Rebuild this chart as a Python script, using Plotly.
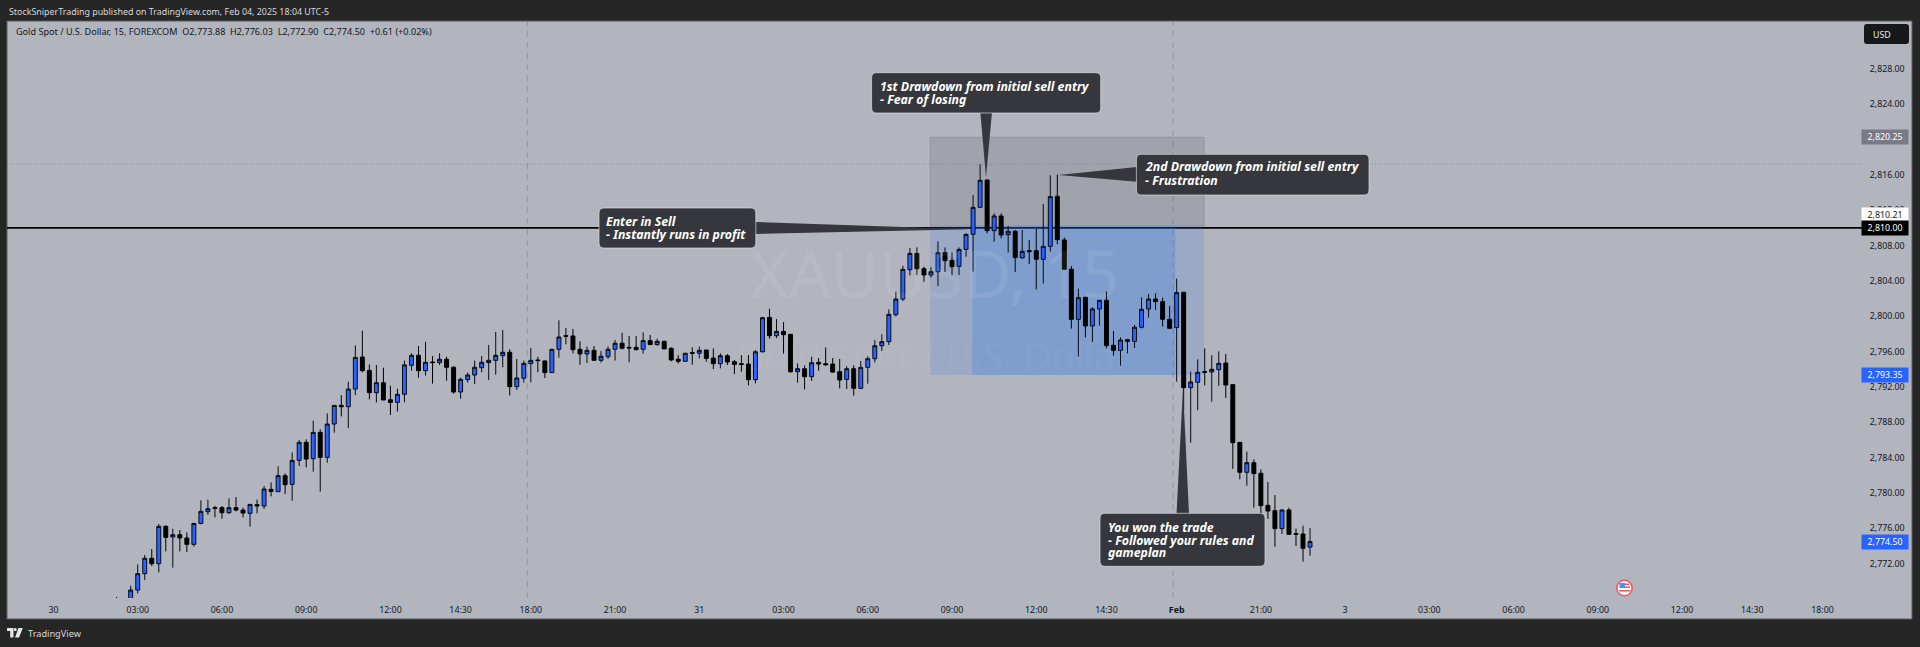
import plotly.graph_objects as go

# OHLC, left to right
opens = [2767.00, 2765.00, 2767.70, 2769.02, 2770.87, 2772.61, 2772.00, 2776.23, 2775.02, 2775.28,
         2774.91, 2774.19, 2776.56, 2777.88, 2778.34, 2778.34, 2777.77, 2778.34, 2778.07, 2777.70,
         2778.68, 2778.53, 2780.41, 2780.15, 2781.96, 2780.98, 2783.69, 2785.73, 2783.88, 2786.86,
         2784.03, 2787.80, 2789.91, 2789.76, 2791.76, 2795.38, 2793.87, 2791.35, 2792.48, 2790.55,
         2790.25,
         2791.17, 2794.45, 2795.58, 2793.84, 2794.82, 2794.75, 2795.13, 2794.22, 2791.43, 2792.83,
         2793.35, 2794.18, 2794.75, 2795.01, 2795.54, 2795.92, 2792.03, 2792.98, 2794.64, 2795.05,
         2794.94, 2793.62, 2796.26, 2797.80, 2797.77, 2796.26, 2795.73, 2796.14, 2795.01, 2795.43,
         2796.26, 2796.94, 2796.48, 2796.48, 2796.26, 2797.24, 2796.79, 2797.16, 2796.37, 2795.13,
         2794.90, 2795.88, 2795.81,
         2796.17, 2795.27, 2794.63, 2795.53, 2794.85, 2794.63, 2794.59, 2792.82, 2795.98, 2799.87,
         2797.79, 2798.28, 2797.95, 2793.72, 2794.06, 2793.16, 2794.78, 2794.63, 2794.59, 2793.72,
         2792.85, 2794.06, 2791.84, 2794.21, 2795.19, 2796.66, 2797.12, 2800.17, 2801.94, 2805.26,
         2807.11, 2805.37, 2804.66, 2805.03, 2807.22, 2806.32, 2805.64, 2807.56, 2809.27,
         2812.32, 2815.41, 2809.68, 2811.34, 2809.23, 2809.61, 2806.59, 2807.42, 2807.42, 2806.44,
         2807.91, 2813.57, 2808.63, 2805.31, 2799.65, 2802.14, 2798.90, 2800.82, 2801.80, 2796.71,
         2796.14, 2797.35, 2797.16, 2798.75, 2800.82, 2801.95, 2801.65, 2799.65, 2798.71, 2802.71,
         2791.92, 2792.52, 2793.73, 2793.69, 2793.95, 2794.71, 2792.26, 2785.73, 2782.34, 2783.43,
         2782.23, 2778.60, 2778.00, 2775.97, 2778.08, 2775.40, 2775.36, 2773.88]
highs = [2768.25, 2767.80, 2769.51, 2771.93, 2772.98, 2773.66, 2776.49, 2776.34, 2775.96, 2775.81,
         2775.55, 2776.56, 2779.17, 2779.24, 2778.53, 2778.53, 2779.39, 2779.54, 2778.34, 2778.71,
         2779.24, 2780.79, 2781.20, 2783.01, 2782.22, 2784.60, 2785.99, 2786.07, 2788.18, 2787.20,
         2789.01, 2789.91, 2791.08, 2792.59, 2796.70, 2798.36, 2794.55, 2794.48, 2794.17, 2792.14,
         2791.80,
         2794.98, 2795.81, 2796.63, 2797.09, 2795.50, 2795.81, 2795.43, 2794.37, 2793.05, 2793.62,
         2794.98, 2795.50, 2796.75, 2798.22, 2798.44, 2796.26, 2795.16, 2794.98, 2796.41, 2795.39,
         2794.98, 2796.26, 2799.54, 2798.67, 2798.56, 2797.16, 2796.56, 2796.63, 2796.07, 2796.56,
         2797.31, 2798.14, 2797.77, 2797.77, 2798.18, 2797.88, 2797.46, 2797.24, 2796.48, 2795.58,
         2795.81, 2796.48, 2796.56,
         2796.21, 2796.36, 2795.80, 2795.72, 2795.04, 2795.61, 2795.61, 2796.17, 2799.94, 2800.85,
         2799.68, 2799.34, 2797.98, 2794.66, 2794.44, 2795.42, 2795.27, 2796.47, 2795.27, 2795.16,
         2794.36, 2794.44, 2794.93, 2795.46, 2797.30, 2797.95, 2800.77, 2802.77, 2805.71, 2807.71,
         2807.79, 2805.60, 2805.53, 2808.47, 2807.79, 2807.22, 2807.79, 2809.37, 2813.72,
         2817.19, 2815.45, 2811.64, 2811.64, 2810.21, 2809.76, 2809.76, 2808.63, 2809.87, 2812.70,
         2815.94, 2816.02, 2808.89, 2805.68, 2803.12, 2802.14, 2801.01, 2801.84, 2802.82, 2798.33,
         2797.61, 2797.43, 2799.01, 2802.14, 2802.52, 2802.59, 2802.10, 2801.16, 2804.25, 2802.74,
         2793.73, 2795.12, 2796.37, 2795.57, 2796.03, 2795.73, 2792.26, 2785.77, 2784.68, 2783.81,
         2782.68, 2781.24, 2779.77, 2778.15, 2778.34, 2775.97, 2776.30, 2776.03]
lows = [2765.80, 2764.50, 2767.33, 2768.65, 2770.15, 2771.74, 2771.02, 2773.40, 2771.55, 2773.40,
        2773.32, 2773.92, 2776.45, 2777.51, 2777.24, 2777.09, 2777.62, 2777.92, 2777.24, 2776.19,
        2777.70, 2778.19, 2779.62, 2780.15, 2779.88, 2779.13, 2783.05, 2782.90, 2782.41, 2780.15,
        2783.43, 2786.82, 2788.67, 2787.35, 2791.08, 2793.65, 2790.59, 2790.25, 2790.52, 2788.82,
        2789.20,
        2790.26, 2793.84, 2793.05, 2793.28, 2792.37, 2794.49, 2792.71, 2791.24, 2790.68, 2792.49,
        2792.34, 2793.66, 2792.79, 2793.39, 2794.22, 2791.02, 2791.66, 2792.49, 2792.52, 2793.66,
        2793.01, 2793.62, 2795.31, 2796.82, 2795.81, 2794.49, 2794.71, 2795.01, 2794.75, 2795.16,
        2794.98, 2796.26, 2794.79, 2796.14, 2795.77, 2796.75, 2796.67, 2796.30, 2794.90, 2794.64,
        2794.90, 2794.52, 2795.24,
        2794.85, 2794.02, 2794.10, 2794.48, 2793.46, 2793.72, 2792.18, 2792.40, 2795.91, 2797.46,
        2797.53, 2795.76, 2793.61, 2792.48, 2791.72, 2792.67, 2793.83, 2794.40, 2793.61, 2791.84,
        2791.76, 2791.01, 2791.76, 2792.36, 2794.78, 2796.06, 2796.74, 2799.98, 2801.72, 2804.62,
        2804.66, 2803.90, 2804.36, 2803.41, 2805.00, 2804.66, 2804.66, 2806.73, 2805.04,
        2812.32, 2809.38, 2808.44, 2808.81, 2807.19, 2805.01, 2806.55, 2805.91, 2803.04, 2803.69,
        2807.31, 2808.14, 2805.31, 2798.60, 2795.43, 2797.61, 2797.09, 2798.93, 2796.37, 2795.54,
        2794.41, 2795.80, 2796.41, 2798.63, 2799.84, 2800.71, 2798.82, 2798.63, 2792.60, 2789.39,
        2785.69, 2789.35, 2792.18, 2790.33, 2792.14, 2790.75, 2782.72, 2781.55, 2780.83, 2778.34,
        2776.57, 2777.06, 2773.93, 2775.36, 2775.25, 2774.00, 2772.23, 2772.90]
closes = [2766.50, 2767.00, 2769.02, 2770.87, 2772.61, 2772.00, 2776.23, 2774.98, 2775.28, 2774.91,
          2774.19, 2776.56, 2777.92, 2778.22, 2778.26, 2777.77, 2778.34, 2778.07, 2777.73, 2778.71,
          2778.53, 2780.45, 2780.18, 2781.96, 2780.94, 2783.69, 2785.73, 2783.84, 2786.86, 2784.03,
          2787.80, 2789.91, 2789.76, 2791.76, 2795.34, 2793.84, 2791.35, 2792.48, 2790.52, 2790.25,
          2791.16,
          2794.49, 2795.58, 2793.84, 2794.79, 2794.75, 2795.13, 2794.22, 2791.43, 2792.86, 2793.35,
          2794.22, 2794.79, 2795.01, 2795.58, 2795.92, 2792.03, 2793.01, 2794.67, 2795.01, 2794.98,
          2793.62, 2796.26, 2797.65, 2797.73, 2796.22, 2795.73, 2796.14, 2795.01, 2795.47, 2796.26,
          2796.94, 2796.37, 2796.41, 2796.22, 2797.24, 2796.79, 2797.16, 2796.30, 2795.05, 2794.90,
          2795.81, 2795.81, 2796.14,
          2795.23, 2794.63, 2795.53, 2794.82, 2794.55, 2794.55, 2792.82, 2795.98, 2799.83, 2797.79,
          2798.28, 2797.91, 2793.72, 2794.06, 2793.16, 2794.74, 2794.59, 2794.51, 2793.68, 2792.78,
          2794.06, 2791.84, 2794.21, 2795.19, 2796.66, 2797.12, 2800.21, 2801.94, 2805.30, 2807.11,
          2805.37, 2804.66, 2805.03, 2807.18, 2806.28, 2805.60, 2807.56, 2809.26, 2812.32,
          2815.38, 2809.68, 2811.34, 2809.19, 2809.61, 2806.63, 2807.34, 2807.31, 2806.44, 2807.91,
          2813.53, 2808.66, 2805.31, 2799.65, 2802.10, 2798.90, 2800.82, 2801.80, 2796.67, 2796.14,
          2797.31, 2797.16, 2798.75, 2800.78, 2801.95, 2801.65, 2799.65, 2798.63, 2802.67, 2791.92,
          2792.56, 2793.65, 2793.65, 2793.99, 2794.67, 2792.22, 2785.69, 2782.34, 2783.43, 2782.19,
          2778.57, 2777.96, 2775.97, 2778.08, 2775.32, 2775.32, 2773.74, 2774.50]
bars = list(range(len(opens)))

# Time axis, positions are bar numbers
time_ticks = [-9, 3, 15, 27, 39, 49, 59, 71, 83, 95, 107, 119, 131, 141, 151, 163, 175, 187, 199, 211, 223, 233, 243]
time_labels = ['30', '03:00', '06:00', '09:00', '12:00', '14:30', '18:00', '21:00', '31', '03:00', '06:00',
               '09:00', '12:00', '14:30', '<b>Feb</b>', '21:00', '3', '03:00', '06:00', '09:00', '12:00',
               '14:30', '18:00']
day_breaks = [58.5, 150.5]

# Price scale labels, 2,820 sits under the stop tag and 2,832 under the USD button
price_ticks = [2772, 2776, 2780, 2784, 2788, 2792, 2796, 2800, 2804, 2808, 2812, 2816, 2824, 2828]

# Short position tool and levels
entry_price = 2810.21
stop_price = 2820.25
target_price = 2793.35
last_price = 2774.50
sell_line = 2810.00
prev_high = 2817.20
tool_start = 115.9
tool_end = 154.9
fill_start = 121.9
fill_end = 150.8

bg = '#b2b5be'
dark = '#262626'
blue = '#2962ff'
callout_fill = '#36373c'
font = 'Noto Sans'

# Page geometry, everything outside the axes is placed in pixels
W, H = 1920, 647
left, right, top, bottom = 7, 1912, 21, 619
plot_right, plot_bottom = 1862, 598


def px(x):
    return (x - left)/(right - left)


def py(y):
    return (bottom - y)/(bottom - top)


fig = go.Figure()
fig.add_trace(go.Candlestick(x=bars, open=opens, high=highs, low=lows, close=closes,
                             increasing=dict(fillcolor=blue, line=dict(color='#050a14', width=1)),
                             decreasing=dict(fillcolor='#000000', line=dict(color='#000000', width=1)),
                             whiskerwidth=0, showlegend=False, hoverinfo='skip'))


def text(x, y, s, size=10, color='#131722', anchor='left', **kw):
    fig.add_annotation(x=px(x), y=py(y), xref='paper', yref='paper', text=s, showarrow=False,
                       xanchor=anchor, yanchor='middle', font=dict(family=font, size=size, color=color, **kw))


def rounded(x0, y0, x1, y1, r):
    return (f'M{px(x0 + r)},{py(y0)} L{px(x1 - r)},{py(y0)} Q{px(x1)},{py(y0)} {px(x1)},{py(y0 + r)} '
            f'L{px(x1)},{py(y1 - r)} Q{px(x1)},{py(y1)} {px(x1 - r)},{py(y1)} '
            f'L{px(x0 + r)},{py(y1)} Q{px(x0)},{py(y1)} {px(x0)},{py(y1 - r)} '
            f'L{px(x0)},{py(y0 + r)} Q{px(x0)},{py(y0)} {px(x0 + r)},{py(y0)} Z')


def poly(points):
    return 'M' + ' L'.join(f'{px(a)},{py(b)}' for a, b in points) + ' Z'


def paper_shape(path, fill, line=None, width=0, layer='above'):
    fig.add_shape(type='path', path=path, xref='paper', yref='paper', fillcolor=fill, layer=layer,
                  line=dict(color=line or fill, width=width))


# Grey chart panel with its thin frame
fig.add_shape(type='rect', xref='paper', yref='paper', x0=0, x1=1, y0=0, y1=1, fillcolor=bg, layer='below',
              line=dict(color='#5a5c63', width=1))

# Day separators and levels
for d in day_breaks:
    fig.add_shape(type='line', x0=d, x1=d, yref='y domain', y0=0, y1=1, layer='below',
                  line=dict(color='rgba(110,113,125,0.45)', width=1, dash='6px,5px'))
fig.add_shape(type='line', xref='x domain', x0=0, x1=1, y0=prev_high, y1=prev_high, layer='below',
              line=dict(color='rgba(90,93,105,0.45)', width=1, dash='1px,2px'))

# Position tool
fig.add_shape(type='rect', x0=tool_start, x1=tool_end, y0=entry_price, y1=stop_price, layer='below',
              fillcolor='rgba(100,102,110,0.22)', line=dict(color='rgba(100,102,110,0.30)', width=1))
fig.add_shape(type='rect', x0=tool_start, x1=tool_end, y0=target_price, y1=entry_price, layer='below',
              fillcolor='rgba(41,110,230,0.17)', line=dict(width=0))
fig.add_shape(type='rect', x0=fill_start, x1=fill_end, y0=target_price, y1=entry_price, layer='below',
              fillcolor='rgba(30,120,235,0.22)', line=dict(width=0))
fig.add_shape(type='line', xref='x domain', x0=0, x1=1, y0=sell_line, y1=sell_line, layer='below',
              line=dict(color='#000000', width=1.6))

# Callouts: box, pointer and one annotation per line of text
callouts = [
    dict(box=(871.6, 72.7, 1100.7, 113), tip=[(980.3, 112), (992, 112), (986, 177.3)],
         lines=['1st Drawdown from initial sell entry', '- Fear of losing'], tx=878, ty=[86.7, 99.5]),
    dict(box=(1136.4, 154.3, 1369, 195), tip=[(1137, 167), (1137, 181.7), (1058.4, 175)],
         lines=['2nd Drawdown from initial sell entry', '- Frustration'], tx=1143, ty=[167, 180]),
    dict(box=(599, 208, 755.8, 248), tip=[(755, 222), (755, 234), (970, 229.3)],
         lines=['Enter in Sell', '- Instantly runs in profit'], tx=604, ty=[221.5, 234.5]),
    dict(box=(1100, 513.3, 1265, 566.3), tip=[(1176.5, 514), (1189, 514), (1183, 388)],
         lines=['You won the trade', '- Followed your rules and', 'gameplan'], tx=1106, ty=[527, 540, 552.5]),
]
for c in callouts:
    paper_shape(poly(c['tip']), callout_fill)
    paper_shape(rounded(*c['box'], 5), callout_fill, 'rgba(225,226,232,0.65)', 1)
    for s, y in zip(c['lines'], c['ty']):
        text(c['tx'], y, s, size=12.3, color='#ffffff', weight=700, style='italic')

# Watermark
text(934, 272, 'XAUUSD, 15', size=66, color='rgba(255,255,255,0.08)', anchor='center')
text(934, 355, 'Gold Spot / U.S. Dollar', size=38, color='rgba(255,255,255,0.05)', anchor='center')

# Header, legend, footer
text(7, 11.5, 'StockSniperTrading published on TradingView.com, Feb 04, 2025 18:04 UTC-5', size=8.9, color='#d8d9dc')
text(14, 32, 'Gold Spot / U.S. Dollar, 15, FOREXCOM&nbsp;&nbsp;O2,773.88&nbsp;&nbsp;H2,776.03&nbsp;&nbsp;L2,772.90&nbsp;&nbsp;'
     'C2,774.50&nbsp;&nbsp;+0.61 (+0.02%)', size=9.1)
text(26, 633.5, 'TradingView', size=9.2, color='#d8d9dc')
paper_shape(poly([(7, 628), (13.5, 628), (13.5, 637.5), (10.2, 637.5), (10.2, 631), (7, 631)]), '#e8e8e8')
paper_shape(poly([(18.5, 628), (22.8, 628), (19, 637.5), (15, 637.5)]), '#e8e8e8')
fig.add_shape(type='circle', xref='paper', yref='paper', x0=px(13.8), x1=px(16.8), y0=py(631), y1=py(628),
              fillcolor='#e8e8e8', line=dict(width=0))

# USD button
paper_shape(rounded(1864, 24, 1909, 44, 3), '#17181c')
text(1871, 34.5, 'USD', size=8.8, color='#e8e8e8')

# Price scale tags
tags = [(stop_price, '#787b86', '#ffffff', 0), (entry_price, '#ffffff', '#131722', 10.5), (sell_line, '#000000', '#ffffff', 0),
        (target_price, blue, '#ffffff', 0), (last_price, blue, '#ffffff', 0)]
for price, fill, ink, shift in tags:
    fig.add_annotation(x=px(1885), xref='paper', xanchor='center', y=price, yref='y', yshift=shift,
                       text=f'{price:,.2f}', showarrow=False, width=44, height=12, bgcolor=fill,
                       font=dict(family=font, size=8.8, color=ink))

# Economic event flag
fig.add_shape(type='circle', xref='paper', yref='paper', x0=px(1616.8), x1=px(1632.2), y0=py(595.7), y1=py(580.3),
              fillcolor='#ffffff', line=dict(color='#f7525f', width=1.6))
paper_shape(poly([(1619.5, 583), (1625, 583), (1625, 588), (1619.5, 588)]), '#4a8fe8')
paper_shape(poly([(1625, 583.5), (1629, 583.5), (1629, 585), (1625, 585)]), '#f7525f')
paper_shape(poly([(1625, 586.5), (1630, 586.5), (1630, 588), (1625, 588)]), '#f7525f')
paper_shape(poly([(1619, 590), (1630.5, 590), (1630.5, 591.5), (1619, 591.5)]), '#f7525f')

fig.update_layout(width=W, height=H, margin=dict(l=left, r=W - right, t=top, b=H - bottom, autoexpand=False),
                  paper_bgcolor=dark, plot_bgcolor=bg, boxgap=0.2, showlegend=False,
                  xaxis=dict(domain=[0, px(plot_right)], range=[-15.62, 248.63], rangeslider=dict(visible=False),
                             tickmode='array', tickvals=time_ticks, ticktext=time_labels, tickangle=0,
                             showgrid=False, zeroline=False, showline=False, ticks='outside', ticklen=3, tickcolor=bg,
                             tickfont=dict(family=font, size=8.8, color='#131722')),
                  yaxis=dict(domain=[py(plot_bottom), 1], range=[2768.12, 2833.40], side='right',
                             tickmode='array', tickvals=price_ticks,
                             tickformat=',.2f', showgrid=False, zeroline=False, showline=False,
                             ticks='outside', ticklen=5, tickcolor=bg,
                             tickfont=dict(family=font, size=8.8, color='#131722')))

fig.write_html('out.html', config={'displayModeBar': False}, post_script="document.body.style.margin='0';")
